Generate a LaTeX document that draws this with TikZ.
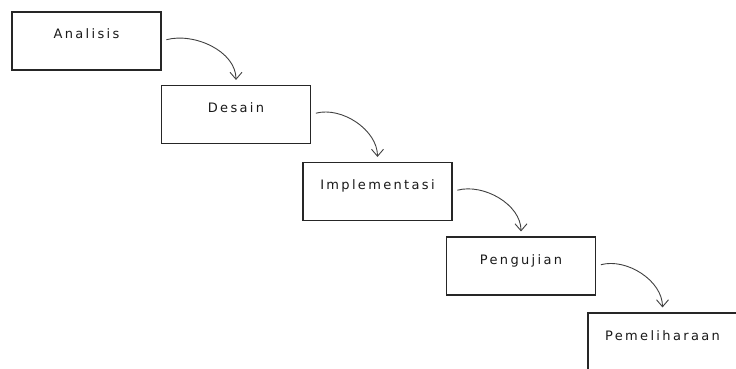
\documentclass[tikz,border=0pt]{standalone}
\usepackage{fontspec}
\setmainfont{DejaVu Sans}[LetterSpace=18]
\usetikzlibrary{arrows.meta}
\tikzset{
  stage/.style={draw=black!85, line width=1.1pt, minimum width=149pt,
    inner ysep=0pt, text height=27pt, text depth=31pt,
    font=\fontsize{13pt}{15pt}\selectfont, text=black!90},
  flow/.style={-{Straight Barb[length=7pt,width=12pt]}, draw=black!75,
    line width=0.9pt, shorten <=5pt, shorten >=5pt}
}
\begin{document}
\begin{tikzpicture}[x=1pt,y=-1pt]
  \useasboundingbox (0,0) rectangle (736,369);
  \draw
    (86.5,41) node[stage] (analisis){Analisis}
    (236,114.5) node[stage] (desain){Desain}
    (377.5,191.5) node[stage] (implementasi){Implementasi}
    (521,266) node[stage] (pengujian){Pengujian}
    (662.5,342) node[stage] (pemeliharaan){Pemeliharaan};
  \begin{scope}[flow]
    \draw (analisis.east) to[out=15,in=90] (desain.north);
    \draw (desain.east) to[out=15,in=90] (implementasi.north);
    \draw (implementasi.east) to[out=15,in=90] (pengujian.north);
    \draw (pengujian.east) to[out=15,in=90] (pemeliharaan.north);
  \end{scope}
\end{tikzpicture}
\end{document}
